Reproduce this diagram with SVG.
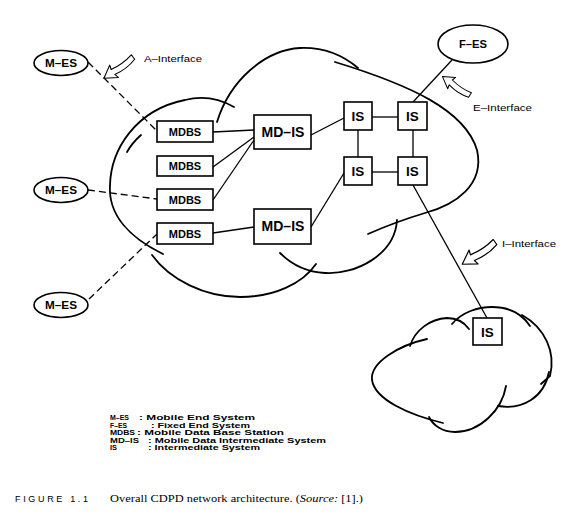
<svg xmlns="http://www.w3.org/2000/svg" xmlns:xlink="http://www.w3.org/1999/xlink" width="576" height="516" viewBox="0 0 576 516">
<style>
.cloud{fill:none;stroke:#000;stroke-width:1.8;stroke-linecap:round}
.box{fill:#fff;stroke:#000;stroke-width:1.6}
.ell{fill:#fff;stroke:#000;stroke-width:1.6}
.ln{fill:none;stroke:#000;stroke-width:1.3}
.dash{fill:none;stroke:#000;stroke-width:1.3;stroke-dasharray:7 4}
.lbl{font-family:"Liberation Sans",Arial,sans-serif;font-weight:bold;text-anchor:middle;fill:#000}
.ifc{font-family:"Liberation Sans",Arial,sans-serif;font-size:9.5px;fill:#000}
.leg{font-family:"Liberation Sans",Arial,sans-serif;font-weight:bold;font-size:8px;fill:#000}
.harrow{fill:#fff;stroke:#000;stroke-width:1.1;stroke-linejoin:round}
</style>
<defs>
<path id="ha" d="M0,-2.8 Q12,-6 25,-3 L24,-7.5 L36,0.5 L23.5,7.5 L25,3.2 Q12,0.5 0,2.8 Z"/>
</defs>
<rect width="576" height="516" fill="#fff"/>

<g id="main-cloud">
<path class="cloud" d="M163,254 C130,238 108,215 110,185 C111,150 135,110 185,100 C205,95 220,99 234,107"/>
<path class="cloud" d="M127,152 Q132,143 141,135"/>
<path class="cloud" d="M217,122 C230,80 265,50 300,48 C325,47 345,57 358,68"/>
<path class="cloud" d="M335,62 C410,85 465,110 477,150 C485,185 455,205 425,213 Q395,222 368,234"/>
<path class="cloud" d="M397,220 C395,255 355,275 325,273 C305,272 290,263 280,253"/>
<path class="cloud" d="M152,255 C170,280 205,297 240,297 C275,297 303,283 316,264"/>
</g>

<g id="small-cloud">
<path class="cloud" d="M443,423 C410,415 375,400 372,380 C370,362 400,345 427,339"/>
<path class="cloud" d="M410,346 C415,330 430,319 447,318 C457,318 464,322 469,329"/>
<path class="cloud" d="M452,324 C462,312 478,307 492,307 C510,307 522,314 530,326"/>
<path class="cloud" d="M522,315 C545,328 556,352 550,376 L541,384"/>
<path class="cloud" d="M549,372 C544,398 522,410 498,406"/>
<path class="cloud" d="M506,386 C502,410 480,432 455,432 C442,432 433,425 429,417"/>
</g>

<g id="connectors">
<path class="dash" d="M88,62 L157,131"/>
<path class="dash" d="M88,190 L157,199"/>
<path class="dash" d="M89,299 L157,234"/>
<path class="ln" d="M213,132 L254,130"/>
<path class="ln" d="M213,167 L254,137"/>
<path class="ln" d="M213,200 L254,140"/>
<path class="ln" d="M213,233 L254,227"/>
<path class="ln" d="M311,135 L344,118"/>
<path class="ln" d="M372,117 L398,117"/>
<path class="ln" d="M358,130 L358,157"/>
<path class="ln" d="M413,130 L413,157"/>
<path class="ln" d="M372,172 L398,172"/>
<path class="ln" d="M344,173 L311,227"/>
<path class="ln" d="M413,102 L452,60"/>
<path class="ln" d="M413,185 L487,318"/>
</g>

<g id="interfaces">
<use xlink:href="#ha" class="harrow" transform="translate(133,57) rotate(143)"/>
<use xlink:href="#ha" class="harrow" transform="translate(470,95) rotate(-147) scale(0.92)"/>
<use xlink:href="#ha" class="harrow" transform="translate(495,242) rotate(145) scale(1.1)"/>
<text class="ifc" x="144" y="62" textLength="58" lengthAdjust="spacingAndGlyphs">A–Interface</text>
<text class="ifc" x="473" y="111" textLength="59" lengthAdjust="spacingAndGlyphs">E–Interface</text>
<text class="ifc" x="502" y="247" textLength="54" lengthAdjust="spacingAndGlyphs">I–Interface</text>
</g>

<g id="mes1"><ellipse class="ell" cx="61" cy="63" rx="27" ry="12.5"/><text class="lbl" x="61" y="67" font-size="11" textLength="32" lengthAdjust="spacingAndGlyphs">M–ES</text></g>
<g id="mes2"><ellipse class="ell" cx="61" cy="190" rx="27" ry="12.5"/><text class="lbl" x="61" y="194" font-size="11" textLength="32" lengthAdjust="spacingAndGlyphs">M–ES</text></g>
<g id="mes3"><ellipse class="ell" cx="61" cy="305" rx="27" ry="12.5"/><text class="lbl" x="61" y="309" font-size="11" textLength="32" lengthAdjust="spacingAndGlyphs">M–ES</text></g>
<g id="fes"><ellipse class="ell" cx="473" cy="44" rx="35" ry="19"/><text class="lbl" x="473" y="48" font-size="11" textLength="28" lengthAdjust="spacingAndGlyphs">F–ES</text></g>

<g id="mdbs1"><rect class="box" x="157" y="121" width="56" height="21"/><text class="lbl" x="185" y="136" font-size="11">MDBS</text></g>
<g id="mdbs2"><rect class="box" x="157" y="156" width="56" height="20"/><text class="lbl" x="185" y="170" font-size="11">MDBS</text></g>
<g id="mdbs3"><rect class="box" x="157" y="189" width="56" height="21"/><text class="lbl" x="185" y="204" font-size="11">MDBS</text></g>
<g id="mdbs4"><rect class="box" x="157" y="223" width="56" height="21"/><text class="lbl" x="185" y="238" font-size="11">MDBS</text></g>

<g id="mdis1"><rect class="box" x="254" y="115" width="57" height="34"/><text class="lbl" x="283" y="137" font-size="14">MD–IS</text></g>
<g id="mdis2"><rect class="box" x="254" y="209" width="57" height="35"/><text class="lbl" x="283" y="231" font-size="14">MD–IS</text></g>

<g id="is1"><rect class="box" x="344" y="102" width="28" height="28"/><text class="lbl" x="358" y="121" font-size="13.5">IS</text></g>
<g id="is2"><rect class="box" x="398" y="102" width="29" height="28"/><text class="lbl" x="412.5" y="121" font-size="13.5">IS</text></g>
<g id="is3"><rect class="box" x="344" y="157" width="28" height="28"/><text class="lbl" x="358" y="176" font-size="13.5">IS</text></g>
<g id="is4"><rect class="box" x="398" y="157" width="29" height="28"/><text class="lbl" x="412.5" y="176" font-size="13.5">IS</text></g>
<g id="is5"><rect class="box" x="473" y="318" width="29" height="27"/><text class="lbl" x="487.5" y="336.5" font-size="13.5">IS</text></g>

<g id="legend">
<text class="leg" x="110" y="420" textLength="19" lengthAdjust="spacingAndGlyphs">M–ES</text><text class="leg" x="139" y="420" textLength="116" lengthAdjust="spacingAndGlyphs">: Mobile End System</text>
<text class="leg" x="110" y="427.5" textLength="17" lengthAdjust="spacingAndGlyphs">F–ES</text><text class="leg" x="151" y="427.5" textLength="99" lengthAdjust="spacingAndGlyphs">: Fixed End System</text>
<text class="leg" x="110" y="435" textLength="25" lengthAdjust="spacingAndGlyphs">MDBS</text><text class="leg" x="137" y="435" textLength="147" lengthAdjust="spacingAndGlyphs">: Mobile Data Base Station</text>
<text class="leg" x="110" y="442.5" textLength="29" lengthAdjust="spacingAndGlyphs">MD–IS</text><text class="leg" x="148" y="442.5" textLength="178" lengthAdjust="spacingAndGlyphs">: Mobile Data Intermediate System</text>
<text class="leg" x="110" y="450" textLength="7" lengthAdjust="spacingAndGlyphs">IS</text><text class="leg" x="148" y="450" textLength="112" lengthAdjust="spacingAndGlyphs">: Intermediate System</text>
</g>

<g id="caption">
<text x="15" y="502" font-family="Liberation Sans,Arial,sans-serif" font-size="9" fill="#000" textLength="73" lengthAdjust="spacing">FIGURE 1.1</text>
<text x="110" y="502" font-family="Liberation Serif,Times New Roman,serif" font-size="10.5" fill="#000" textLength="253" lengthAdjust="spacingAndGlyphs">Overall CDPD network architecture. (<tspan font-style="italic">Source:</tspan> [1].)</text>
</g>
</svg>
